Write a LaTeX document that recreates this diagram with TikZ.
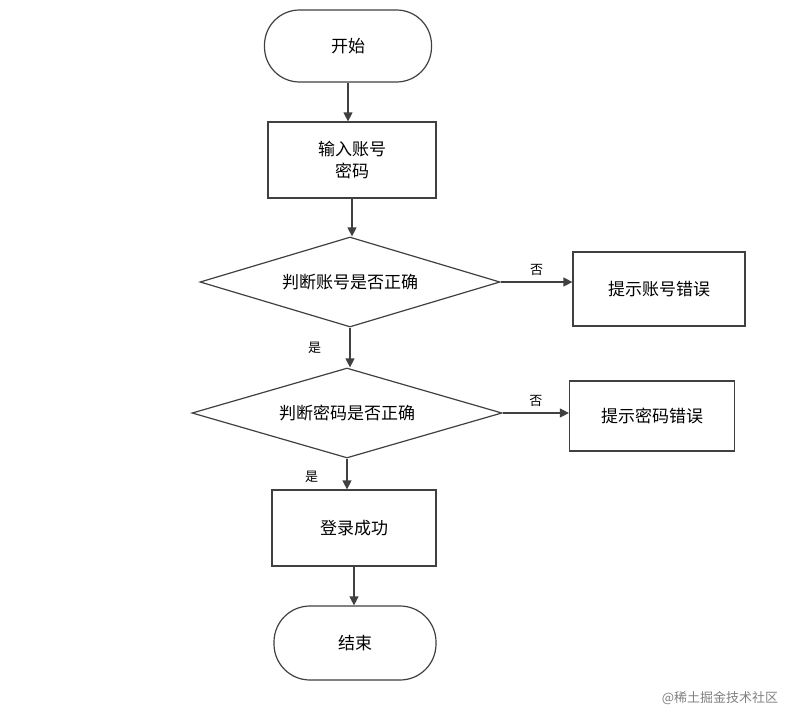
\documentclass[tikz,border=0pt]{standalone}
\usepackage{fontspec}
\newfontfamily\cjk{Noto Sans CJK SC}
\usetikzlibrary{shapes.geometric,arrows.meta}
\begin{document}
\begin{tikzpicture}[x=1pt,y=-1pt,
  font=\cjk\fontsize{17}{22}\selectfont,
  base/.style={draw=black!75,line width=1.2pt,fill=white,inner sep=0pt,
    drop shadow/.style={}},
  term/.style={base,rounded rectangle},
  box/.style={base,rectangle,align=center},
  dec/.style={base,diamond,aspect=3.3},
  conn/.style={line width=1.2pt,draw=black!75,-{Triangle[length=9pt,width=9pt]}},
  lab/.style={font=\cjk\fontsize{13}{15}\selectfont}]
\useasboundingbox (0,0) rectangle (800,720);
\tikzset{rounded rectangle/.style={rounded corners=36pt}}
\node[box,rounded corners=35pt,minimum width=167pt,minimum height=72pt] (start) at (348,46) {开始};
\node[box,minimum width=168pt,minimum height=76pt] (input) at (352,160) {输入账号\\密码};
\node[dec,minimum width=300pt,minimum height=90pt] (d1) at (350,282) {};
\node at (350,282) {判断账号是否正确};
\node[box,minimum width=172pt,minimum height=74pt] (e1) at (659,289) {提示账号错误};
\node[dec,minimum width=310pt,minimum height=90pt] (d2) at (347,413) {};
\node at (347,413) {判断密码是否正确};
\node[box,minimum width=165pt,minimum height=70pt] (e2) at (652,416) {提示密码错误};
\node[box,minimum width=164pt,minimum height=76pt] (ok) at (354,528) {登录成功};
\node[box,rounded corners=36pt,minimum width=162pt,minimum height=74pt] (end) at (355,643) {结束};
\draw[conn] (start.south) -- (start.south |- input.north);
\draw[conn] (input.south) -- (input.south |- d1.north);
\draw[conn] (d1.east) -- (e1.west |- d1.east) node[lab,midway,above=3pt] {否};
\draw[conn] (d1.south) -- (d1.south |- d2.north) node[lab,pos=0.5,left=25pt] {是};
\draw[conn] (d2.east) -- (e2.west |- d2.east) node[lab,midway,above=3pt] {否};
\draw[conn] (d2.south) -- (d2.south |- ok.north) node[lab,pos=0.6,left=25pt] {是};
\draw[conn] (ok.south) -- (ok.south |- end.north);
\node[font=\cjk\fontsize{13}{15}\selectfont,text=black!50] (wm) at (720,698) {@稀土掘金技术社区};
\end{tikzpicture}
\end{document}
